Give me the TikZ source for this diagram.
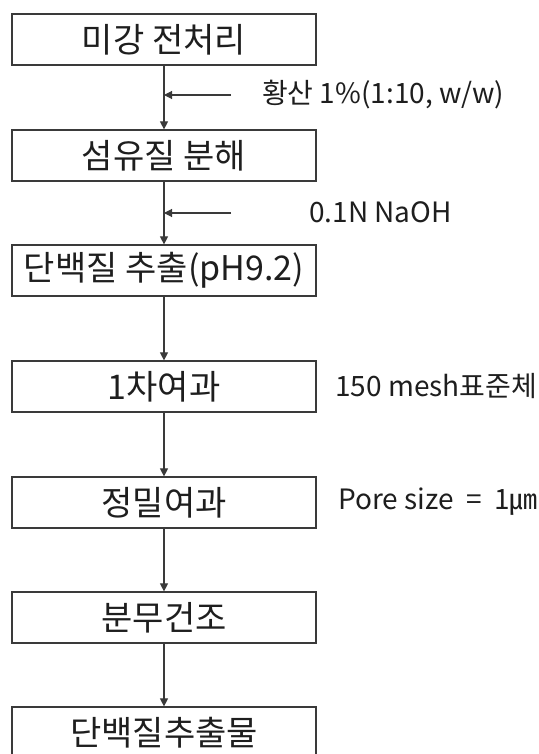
\documentclass[tikz,border=0pt]{standalone}
\usepackage{fontspec}
\setmainfont{Noto Sans CJK KR}
\usepackage{xcolor}
\usetikzlibrary{arrows.meta}

\definecolor{linegray}{HTML}{3A3A3A}
\definecolor{textgray}{HTML}{1E1E1E}

\tikzset{
  stepbox/.style={draw=linegray, line width=1.2pt, minimum width=304pt, minimum height=51pt,
    inner sep=0pt, text=textgray, font=\fontsize{34}{36}\selectfont},
  note/.style={anchor=west, inner sep=0pt, text=textgray, font=\fontsize{28}{30}\selectfont},
  flow/.style={draw=linegray, line width=1.1pt, -{Triangle[width=8pt,length=8pt]}}
}

\begin{document}
\begin{tikzpicture}[x=1pt, y=-1pt]
  % Fix the page size
  \useasboundingbox (0,0) rectangle (538,754);

  % Draw the process steps
  \node[stepbox] (b1) at (164,39.5) {미강 전처리};
  \node[stepbox] (b2) at (164,155.5) {섬유질 분해};
  \node[stepbox] (b3) at (164,270.5) {단백질 추출(pH9.2)};
  \node[stepbox] (b4) at (164,386.5) {1차여과};
  \node[stepbox] (b5) at (164,502.5) {정밀여과};
  \node[stepbox] (b6) at (164,617.5) {분무건조};
  \node[stepbox] (b7) at (164,732.5) {단백질추출물};

  % Draw the arrows between the steps
  \draw[flow] (b1) -- (b2);
  \draw[flow] (b2) -- (b3);
  \draw[flow] (b3) -- (b4);
  \draw[flow] (b4) -- (b5);
  \draw[flow] (b5) -- (b6);
  \draw[flow] (b6) -- (b7);

  % Draw the added reagents
  \coordinate (r1) at (231,95);
  \coordinate (r2) at (231,213);
  \draw[flow] (r1) -- (r1 -| b1.south);
  \draw[flow] (r2) -- (r2 -| b2.south);
  \node[note] (n1) at (262,95) {황산 1\%(1:10, w/w)};
  \node[note] (n2) at (309,212) {0.1N NaOH};

  % Label the filtering steps
  \node[note] (n4) at (335,386) {150 mesh표준체};
  \node[note] (n5) at (338,502) {Pore size ~= ~1㎛};
\end{tikzpicture}
\end{document}
